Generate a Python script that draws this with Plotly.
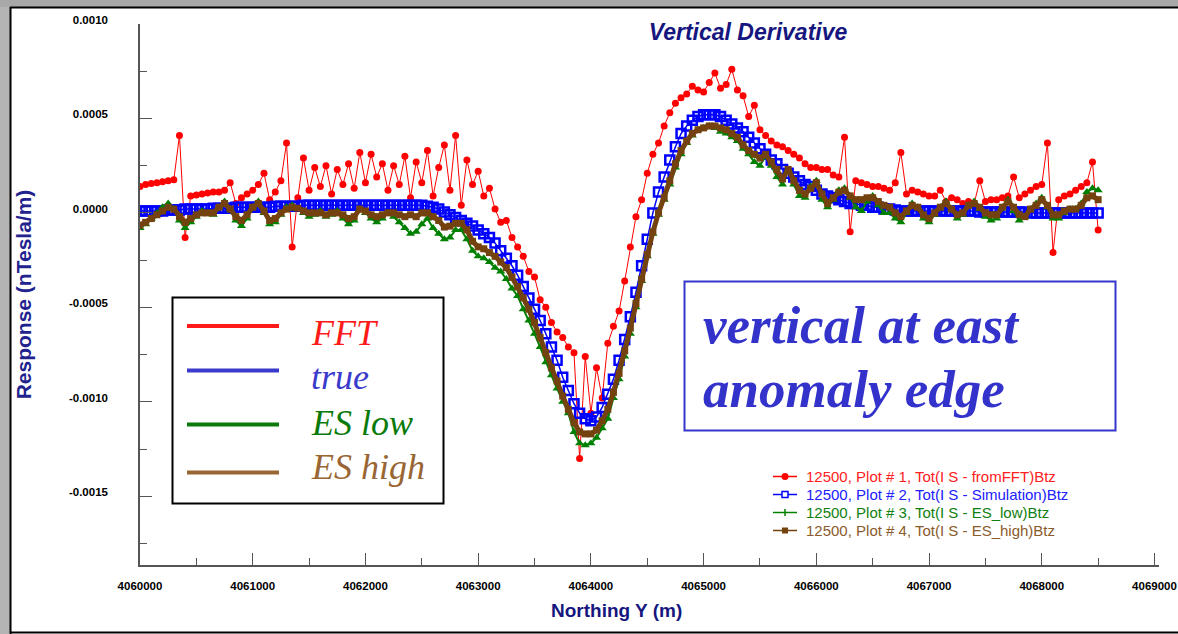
import plotly.graph_objects as go

# ---------------- data (values in units of 1e-4 nT/m) ----------------
northing = list(range(4060000, 4068501, 50))
SCALE = 1e-4

fft_vals = [
    1.4, 1.5, 1.55, 1.6, 1.65, 1.7, 1.75, 4.1, -1.3, 0.9, 0.95,
    1.0, 1.05, 1.1, 1.1, 1.2, 1.6, 0.5, 0.8, 1.0, 1.2,
    1.5, 2.1, 0.7, 1.1, 1.7, 3.7, -1.8, 0.8, 2.9, 1.2,
    2.4, 1.4, 2.5, 1.0, 2.3, 1.5, 2.6, 1.3, 3.2, 1.6,
    3.1, 1.9, 2.6, 1.2, 2.5, 1.5, 3.0, 0.8, 2.7, 1.6,
    3.3, 0.9, 2.4, 3.6, 1.2, 4.1, 0.4, 2.8, 1.5, 2.2,
    0.9, 1.3, 0.2, -0.5, -0.4, -1.3, -1.8, -2.3, -3.1, -3.4,
    -4.6, -5.0, -5.8, -6.3, -6.6, -7.1, -7.4, -13.0, -7.6, -10.6,
    -8.2, -9.8, -6.9, -6.0, -5.2, -3.6, -1.8, -0.2, 0.7, 2.1,
    3.1, 3.7, 4.6, 5.3, 5.8, 6.1, 6.3, 6.7, 6.5, 6.4,
    6.9, 7.4, 6.6, 6.8, 7.6, 6.5, 6.2, 5.1, 5.7, 4.4,
    4.1, 3.8, 3.6, 3.5, 3.3, 3.1, 2.9, 2.6, 2.4, 2.4,
    2.3, 2.3, 2.0, 1.9, 4.0, -1.0, 1.7, 1.6, 1.5, 1.4,
    1.4, 1.3, 1.2, 1.6, 3.2, 1.0, 1.2, 1.1, 1.0, 0.9,
    0.9, 1.2, 0.6, 0.8, 0.7, 0.5, 0.6, 0.5, 1.7, 0.6,
    0.7, 0.7, 0.8, 0.9, 1.9, 0.8, 1.0, 1.2, 1.4, 1.5,
    3.7, -2.1, 0.7, 0.9, 1.0, 1.2, 1.4, 1.6, 2.7, -0.9,
]

true_vals = [
    0.1, 0.1, 0.1, 0.1, 0.1, 0.15, 0.15, 0.15, 0.2, 0.2, 0.2,
    0.2, 0.2, 0.25, 0.25, 0.25, 0.25, 0.3, 0.3, 0.3, 0.3,
    0.3, 0.3, 0.3, 0.35, 0.35, 0.35, 0.35, 0.35, 0.4, 0.4,
    0.4, 0.4, 0.4, 0.4, 0.4, 0.4, 0.4, 0.4, 0.4, 0.4,
    0.4, 0.4, 0.4, 0.4, 0.4, 0.4, 0.4, 0.4, 0.4, 0.4,
    0.35, 0.3, 0.2, 0.05, -0.1, -0.25, -0.4, -0.55, -0.7, -0.9,
    -1.1, -1.3, -1.6, -2.0, -2.4, -2.8, -3.3, -3.9, -4.5, -5.1,
    -5.7, -6.4, -7.1, -7.8, -8.7, -9.4, -10.1, -10.6, -10.9, -11.0,
    -10.8, -10.3, -9.6, -8.8, -7.8, -6.7, -5.5, -4.2, -2.8, -1.4,
    0.0, 1.1, 1.9, 2.8, 3.5, 4.2, 4.6, 4.9, 5.1, 5.2,
    5.2, 5.2, 5.1, 4.9, 4.7, 4.5, 4.3, 4.0, 3.7, 3.4,
    3.1, 2.8, 2.6, 2.3, 2.1, 1.9, 1.7, 1.5, 1.4, 1.2,
    1.0, 0.9, 0.8, 0.7, 0.6, 0.5, 0.5, 0.4, 0.4, 0.3,
    0.3, 0.2, 0.2, 0.15, 0.1, 0.1, 0.1, 0.1, 0.1, 0.1,
    0.1, 0.1, 0.1, 0.1, 0.1, 0.1, 0.1, 0.1, 0.05, 0.05,
    0.05, 0.05, 0.05, 0.05, 0.05, 0.05, 0.05, 0.0, 0.0, 0.0,
    0.0, 0.0, 0.0, 0.0, 0.0, 0.0, 0.0, 0.0, 0.0, 0.0,
]

es_low_vals = [
    -0.8, -0.6, -0.3, 0.0, 0.3, 0.5, 0.2, -0.4, -0.8, -0.5, -0.2,
    0.1, 0.0, -0.1, 0.3, 0.6, 0.2, -0.4, -0.7, -0.3, 0.3,
    0.6, 0.0, -0.6, -0.5, -0.1, 0.3, 0.4, 0.2, 0.0, -0.2,
    -0.1, 0.1, -0.2, -0.1, 0.1, -0.3, -0.6, -0.4, 0.2, 0.0,
    -0.3, -0.5, -0.3, 0.0, -0.2, -0.5, -0.8, -1.1, -1.0, -0.6,
    -0.3, -0.8, -1.1, -1.4, -1.3, -0.9, -0.9, -1.4, -2.0, -2.3,
    -2.4, -2.6, -2.9, -3.1, -3.5, -4.0, -4.4, -5.1, -5.7, -6.4,
    -7.1, -7.9, -8.6, -9.3, -10.0, -10.6, -11.6, -12.2, -12.3, -12.2,
    -11.9, -11.4, -10.9, -9.8, -8.8, -7.6, -6.4, -5.0, -3.6, -2.3,
    -1.1, -0.1, 0.7, 1.5, 2.4, 3.1, 3.7, 4.1, 4.4, 4.5,
    4.6, 4.5, 4.3, 4.2, 4.0, 3.8, 3.4, 3.1, 2.7, 2.5,
    3.0, 2.5, 1.9, 1.5, 2.3, 1.5, 0.9, 0.8, 1.4, 1.7,
    0.7, 0.3, 0.7, 1.2, 1.3, 0.8, 0.3, 0.1, 0.6, 0.9,
    0.4, 0.0, 0.0, -0.3, -0.5, 0.0, 0.5, 0.3, -0.3, -0.5,
    -0.1, 0.3, 0.6, 0.2, -0.3, -0.1, 0.4, 0.6, 0.2, -0.2,
    -0.4, -0.3, 0.3, 0.7, 0.1, -0.4, -0.2, 0.2, 0.5, 0.8,
    0.3, -0.3, -0.3, 0.0, 0.2, 0.2, 0.5, 1.1, 1.3, 1.2,
]

es_high_vals = [
    -0.65, -0.5, -0.3, -0.1, 0.1, 0.3, 0.2, -0.2, -0.5, -0.3, -0.1,
    0.0, 0.0, 0.0, 0.3, 0.5, 0.2, -0.2, -0.4, -0.1, 0.3,
    0.5, 0.1, -0.4, -0.3, 0.0, 0.2, 0.3, 0.25, 0.1, 0.0,
    0.0, 0.0, -0.1, 0.0, 0.0, -0.1, -0.3, -0.2, 0.2, 0.1,
    -0.1, -0.2, -0.1, 0.0, 0.0, -0.1, -0.2, -0.1, -0.2, 0.0,
    0.0, -0.2, -0.4, -0.75, -0.7, -0.55, -0.55, -0.9, -1.5, -1.8,
    -1.9, -2.1, -2.3, -2.6, -2.9, -3.4, -3.9, -4.5, -5.1, -5.8,
    -6.6, -7.4, -8.2, -8.9, -9.7, -10.4, -11.1, -11.6, -11.7, -11.7,
    -11.5, -11.0, -10.4, -9.5, -8.5, -7.3, -6.1, -4.8, -3.5, -2.2,
    -1.0, 0.0, 0.8, 1.7, 2.6, 3.3, 3.8, 4.2, 4.4, 4.5,
    4.6, 4.6, 4.5, 4.4, 4.2, 4.0, 3.6, 3.3, 3.1, 2.9,
    3.1, 2.7, 2.3, 1.8, 2.3, 1.7, 1.2, 1.0, 1.3, 1.6,
    1.0, 0.5, 0.8, 1.1, 1.2, 0.9, 0.7, 0.7, 0.8, 0.8,
    0.6, 0.4, 0.3, 0.0, -0.2, 0.1, 0.4, 0.3, -0.1, -0.3,
    0.0, 0.3, 0.5, 0.2, -0.1, 0.0, 0.4, 0.5, 0.3, 0.0,
    -0.1, -0.1, 0.3, 0.6, 0.3, -0.1, -0.2, 0.2, 0.4, 0.7,
    0.4, -0.1, -0.1, 0.1, 0.2, 0.2, 0.4, 0.8, 0.9, 0.7,
]

x_tick_vals = [4060000, 4061000, 4062000, 4063000, 4064000,
               4065000, 4066000, 4067000, 4068000, 4069000]
x_tick_text = [str(v) for v in x_tick_vals]
y_tick_vals = [0.001, 0.0005, 0.0, -0.0005, -0.001, -0.0015]
y_tick_text = ["0.0010", "0.0005", "0.0000", "-0.0005", "-0.0010", "-0.0015"]

legend_names = [
    "12500, Plot # 1, Tot(I S - fromFFT)Btz",
    "12500, Plot # 2, Tot(I S - Simulation)Btz",
    "12500, Plot # 3, Tot(I S - ES_low)Btz",
    "12500, Plot # 4, Tot(I S - ES_high)Btz",
]
key_labels = ["FFT", "true", "ES low", "ES high"]

# ---------------- styling ----------------
W, H = 1178, 634
L, R, T, B = 140, 19, 24, 69
C_RED, C_BLUE, C_GREEN, C_BROWN = "#ff0000", "#0000ff", "#008000", "#74420f"
LEG_TEXT = ["#ff2020", "#2020ff", "#108010", "#8b5a2b"]
KEY_COL = ["#ff1a1a", "#3a3acc", "#0a7a0a", "#996633"]
NAVY = "#16167f"
SANS = "Liberation Sans, Arial, sans-serif"
SERIF = "Liberation Serif, Times New Roman, serif"


def fx(p):
    return (p - L) / (W - L - R)


def fy(p):
    return (H - B - p) / (H - T - B)


def scaled(vals):
    return [v * SCALE for v in vals]


fig = go.Figure()
styles = [
    (fft_vals, C_RED, dict(symbol="circle", size=7, color=C_RED), 1),
    (true_vals, C_BLUE, dict(symbol="square-open", size=9, color=C_BLUE,
                             line=dict(width=2.5, color=C_BLUE)), 1.5),
    (es_low_vals, C_GREEN, dict(symbol="triangle-up", size=8, color=C_GREEN), 2),
    (es_high_vals, C_BROWN, dict(symbol="square", size=7, color=C_BROWN), 5),
]
for (vals, col, mk, lw), name in zip(styles, legend_names):
    fig.add_trace(go.Scatter(
        x=northing, y=scaled(vals), mode="lines+markers",
        line=dict(color=col, width=lw), marker=mk, name=name, showlegend=False,
    ))

shapes = [
    # grey window border + black frame
    dict(type="rect", xref="paper", yref="paper", x0=fx(0), x1=fx(10), y0=fy(634), y1=fy(0),
         fillcolor="#b4b4b4", line=dict(width=0), layer="above"),
    dict(type="rect", xref="paper", yref="paper", x0=fx(0), x1=fx(1178), y0=fy(7), y1=fy(0),
         fillcolor="#a8a8a8", line=dict(width=0), layer="above"),
    dict(type="line", xref="paper", yref="paper", x0=fx(10), x1=fx(1178), y0=fy(7.5), y1=fy(7.5),
         line=dict(color="black", width=2)),
    dict(type="line", xref="paper", yref="paper", x0=fx(10.5), x1=fx(10.5), y0=fy(7), y1=fy(634),
         line=dict(color="black", width=2)),
    dict(type="line", xref="paper", yref="paper", x0=fx(10), x1=fx(1178), y0=fy(632.5), y1=fy(632.5),
         line=dict(color="black", width=2)),
    # key box
    dict(type="rect", xref="paper", yref="paper", x0=fx(172.5), x1=fx(443.5), y0=fy(297.5), y1=fy(503.5),
         fillcolor="white", line=dict(color="black", width=2)),
    # annotation box
    dict(type="rect", xref="paper", yref="paper", x0=fx(684.5), x1=fx(1115.5), y0=fy(281.5), y1=fy(430.5),
         fillcolor="rgba(0,0,0,0)", line=dict(color="#3535cc", width=2)),
]
annotations = []

# left key (big labels)
key_line_y = [326, 370.5, 424.5, 472.5]
key_text_y = [333, 377, 423, 467]
for lab, col, ly, ty in zip(key_labels, KEY_COL, key_line_y, key_text_y):
    shapes.append(dict(type="line", xref="paper", yref="paper", x0=fx(187), x1=fx(279),
                       y0=fy(ly), y1=fy(ly), line=dict(color=col, width=4)))
    annotations.append(dict(xref="paper", yref="paper", x=fx(309), y=fy(ty), xanchor="left",
                            yanchor="middle", showarrow=False, text=lab,
                            font=dict(family=SERIF, size=36, color=col, style="italic")))

# boxed comment
for txt, ty in [("vertical at east", 325), ("anomaly edge", 389)]:
    annotations.append(dict(xref="paper", yref="paper", x=fx(701), y=fy(ty), xanchor="left",
                            yanchor="middle", showarrow=False, text=txt,
                            font=dict(family=SERIF, size=53, color="#3333cc", style="italic",
                                      weight="bold")))

# series legend (bottom right), drawn as a compact key
leg_rows = [476.5, 494.5, 512.5, 530.5]
leg_cols = [C_RED, C_BLUE, C_GREEN, C_BROWN]
for i, (name, tcol, lcol, ry) in enumerate(zip(legend_names, LEG_TEXT, leg_cols, leg_rows)):
    shapes.append(dict(type="line", xref="paper", yref="paper", x0=fx(773), x1=fx(797),
                       y0=fy(ry), y1=fy(ry), line=dict(color=lcol, width=1.5)))
    if i == 0:
        shapes.append(dict(type="circle", xref="paper", yref="paper", x0=fx(781.5), x1=fx(788.5),
                           y0=fy(ry + 3.5), y1=fy(ry - 3.5), fillcolor=lcol, line=dict(width=0)))
    elif i == 1:
        shapes.append(dict(type="rect", xref="paper", yref="paper", x0=fx(782), x1=fx(788),
                           y0=fy(ry + 3), y1=fy(ry - 3), fillcolor="white",
                           line=dict(color=lcol, width=1.5)))
    elif i == 2:
        shapes.append(dict(type="line", xref="paper", yref="paper", x0=fx(785), x1=fx(785),
                           y0=fy(ry + 3.5), y1=fy(ry - 3.5), line=dict(color=lcol, width=1.5)))
    else:
        shapes.append(dict(type="rect", xref="paper", yref="paper", x0=fx(782), x1=fx(788),
                           y0=fy(ry + 3), y1=fy(ry - 3), fillcolor=lcol, line=dict(width=0)))
    annotations.append(dict(xref="paper", yref="paper", x=fx(804), y=fy(ry), xanchor="left",
                            yanchor="middle", showarrow=False, text=name,
                            font=dict(family=SANS, size=15, color=tcol)))

# x axis title (offset left of plot centre as in the original)
annotations.append(dict(xref="paper", yref="paper", x=fx(616), y=fy(610), xanchor="center",
                        yanchor="middle", showarrow=False, text="Northing Y (m)",
                        font=dict(family=SANS, size=19, color=NAVY, weight="bold")))

tick_font = dict(family=SANS, size=11.5, color="black", weight="bold")

fig.update_layout(
    width=W, height=H,
    margin=dict(l=L, r=R, t=T, b=B, autoexpand=False),
    paper_bgcolor="white", plot_bgcolor="white",
    showlegend=False,
    title=dict(text="Vertical Derivative", x=748 / W, y=1 - 32 / H, xref="container", yref="container",
               xanchor="center", yanchor="middle",
               font=dict(family=SANS, size=23, color=NAVY, weight="bold", style="italic")),
    xaxis=dict(range=[4060000, 4069040], tickmode="array", tickvals=x_tick_vals, ticktext=x_tick_text,
               ticks="inside", ticklen=12, tickwidth=1, tickcolor="#555", showline=True,
               linecolor="#555", linewidth=1.5, showgrid=False, zeroline=False,
               tickfont=tick_font, ticklabelstandoff=9, ticklabeloverflow="allow",
               minor=dict(tickmode="linear", tick0=4060000, dtick=500, ticks="inside", ticklen=7,
                          tickcolor="#555", showgrid=False)),
    yaxis=dict(range=[-0.001864, 0.001], tickmode="array", tickvals=y_tick_vals, ticktext=y_tick_text,
               ticks="inside", ticklen=12, tickwidth=1, tickcolor="#555", showline=True,
               linecolor="#555", linewidth=1.5, showgrid=False, zeroline=False,
               tickfont=tick_font, ticklabelstandoff=28, ticklabelshift=-4,
               minor=dict(tickmode="linear", tick0=0, dtick=0.00025, ticks="inside", ticklen=7,
                          tickcolor="#555", showgrid=False),
               title=dict(text="Response (nTesla/m)", standoff=32,
                          font=dict(family=SANS, size=21, color="#22228f", weight="bold"))),
    shapes=shapes,
    annotations=annotations,
)

fig.write_html("out.html", config={"displayModeBar": False},
               post_script="document.body.style.margin='0';document.body.style.overflow='hidden';")
